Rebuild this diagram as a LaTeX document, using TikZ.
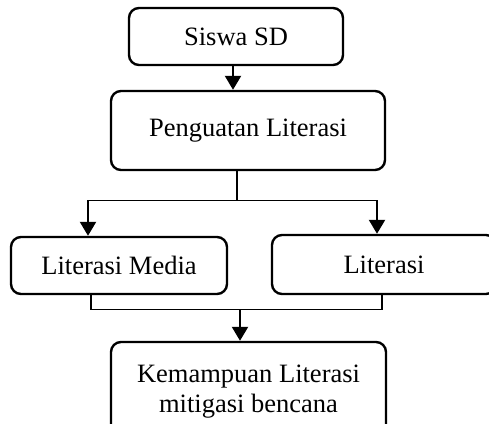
\documentclass[tikz,border=0pt]{standalone}
\usepackage{fontspec}
\setmainfont{Liberation Serif}
\usetikzlibrary{arrows.meta}
\begin{document}
\begin{tikzpicture}[x=1pt,y=-1pt,
  box/.style={draw, line width=2.4pt, rounded corners=10pt, inner sep=0pt, align=center,
    font=\fontsize{26.5}{30}\selectfont},
  thinline/.style={line width=1.3pt},
  arr/.style={line width=2.2pt, -{Triangle[width=16pt,length=14pt]}}]
\clip (0,0) rectangle (489,423);
\node[box, minimum width=214pt, minimum height=57pt] (siswa) at (236,36.5) {Siswa SD};
\node[box, minimum width=274pt, minimum height=79pt] (peng) at (248,130.5) {Penguatan Literasi};
\node[box, minimum width=216pt, minimum height=57pt] (lm) at (119,265.5) {Literasi Media};
\node[box, minimum width=224pt, minimum height=59pt] (li) at (384,264.5) {Literasi};
\node[box, minimum width=275pt, minimum height=99pt] (kem) at (248.5,391.5) {Kemampuan Literasi\\mitigasi bencana};
% Siswa -> Penguatan
\draw[arr] ([xshift=-3pt]siswa.south) -- ([xshift=-3pt]siswa.south |- peng.north);
% split
\coordinate (split) at ([xshift=-11pt,yshift=-29pt]peng.south);
\coordinate (lt) at ([xshift=-31pt]lm.north);
\coordinate (rt) at ([xshift=-7pt]li.north);
\draw[thinline] ([xshift=-11pt]peng.south) -- (split);
\draw[thinline] (lt |- split) -- (rt |- split);
\draw[arr] (lt |- split) -- (lt);
\draw[arr] (rt |- split) -- (rt);
% merge
\coordinate (lb) at ([xshift=-28pt]lm.south);
\coordinate (rb) at ([xshift=-2pt]li.south);
\coordinate (merge) at ([xshift=-8.5pt,yshift=31pt]kem.north);
\draw[thinline] (lb) -- (lb |- merge) -- (rb |- merge) -- (rb);
\draw[arr] (merge) -- ([xshift=-8.5pt]kem.north);
\end{tikzpicture}
\end{document}
